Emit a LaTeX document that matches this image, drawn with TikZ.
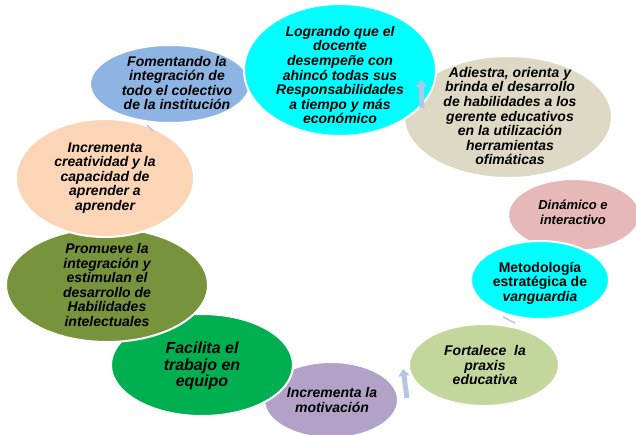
\documentclass[tikz,border=0pt]{standalone}
\usepackage{fontspec}
\setmainfont{Liberation Sans}
\usetikzlibrary{shapes.geometric,arrows.meta}

\definecolor{aqua}{HTML}{00FFFF}
\definecolor{sand}{HTML}{DDD9C4}
\definecolor{rose}{HTML}{E6B9B8}
\definecolor{lime}{HTML}{C3D69B}
\definecolor{lilac}{HTML}{B3A2C7}
\definecolor{leaf}{HTML}{00B050}
\definecolor{olive}{HTML}{77933C}
\definecolor{peach}{HTML}{FBD5B5}
\definecolor{sky}{HTML}{8EB4E3}
\definecolor{cycblue}{HTML}{B4C6E4}

\tikzset{
	bubble/.style={ellipse, draw=white, line width=2pt, inner sep=0pt},
	txt/.style={align=center, inner sep=0pt, font=\bfseries\itshape\fontsize{14}{14.6}\selectfont},
	cyc/.style={draw=cycblue, line width=5pt, -{Triangle[length=7pt,width=11pt]}}
}

\begin{document}
\begin{tikzpicture}[x=1pt,y=-1pt]

			\useasboundingbox (0,0) rectangle (636,434);

			\node[bubble, fill=sky, minimum width=160, minimum height=78] (fomenta) at (170,84) {};
			\node[bubble, fill=sand, minimum width=208, minimum height=122] (adiestra) at (508,117) {};
			\node[bubble, fill=rose, minimum width=132, minimum height=72] (dinamico) at (574,215) {};
			\node[bubble, fill=aqua, minimum width=138, minimum height=78] (metodo) at (540,280) {};
			\node[bubble, fill=lime, minimum width=150, minimum height=82] (fortalece) at (484,365) {};
			\node[bubble, fill=lilac, minimum width=134, minimum height=76] (motiva) at (331,400) {};
			\node[bubble, fill=leaf, minimum width=182, minimum height=102] (equipo) at (202,365) {};
			\node[bubble, fill=olive, minimum width=202, minimum height=114] (promueve) at (107,285) {};
			\node[bubble, fill=peach, minimum width=178, minimum height=118] (creativ) at (105,178) {};
			\node[bubble, fill=aqua, minimum width=192, minimum height=132] (logrando) at (340,70) {};

			\coordinate (a1) at (422,108);
			\coordinate (b1) at (421,80);
			\coordinate (a2) at (407,398);
			\coordinate (b2) at (403,369);
			\draw[cyc] (a1) -- (b1);
			\draw[cyc] (a2) -- (b2);

			\coordinate (a3) at (515,323);
			\coordinate (b3) at (503,317);
			\coordinate (a4) at (153,131);
			\coordinate (b4) at (147,125);
			\draw[cycblue, line width=1.5pt] (a3) -- (b3);
			\draw[cycblue, line width=1.5pt] (a4) -- (b4);

			\node[txt] (t1) at (340,75) {Logrando que el\\docente\\desempeñe con\\ahincó todas sus\\Responsabilidades\\a tiempo y más\\económico};
			\node[txt] (t2) at (510,116) {Adiestra, orienta y\\brinda el desarrollo\\de habilidades a los\\gerente educativos\\en la utilización\\herramientas\\ofimáticas};
			\node[txt, font=\bfseries\itshape\fontsize{13}{15}\selectfont] (t3) at (573,212) {Dinámico e\\interactivo};
			\node[txt, font=\bfseries\fontsize{14}{14.6}\selectfont] (t4) at (540,283) {Metodología\\estratégica de\\\textit{vanguardia}};
			\node[txt] (t5) at (485,365) {Fortalece\ \ la\\praxis\\educativa};
			\node[txt] (t6) at (332,400) {Incrementa la\\motivación};
			\node[txt, font=\bfseries\itshape\fontsize{16}{16.5}\selectfont] (t7) at (202,366) {Facilita el\\trabajo en\\equipo};
			\node[txt] (t8) at (107,285) {Promueve la\\integración y\\estimulan el\\desarrollo de\\Habilidades\\intelectuales};
			\node[txt] (t9) at (105,178) {Incrementa\\creatividad y la\\capacidad de\\aprender a\\aprender};
			\node[txt] (t10) at (177,83) {Fomentando la\\integración de\\todo el colectivo\\de la institución};

\end{tikzpicture}
\end{document}
